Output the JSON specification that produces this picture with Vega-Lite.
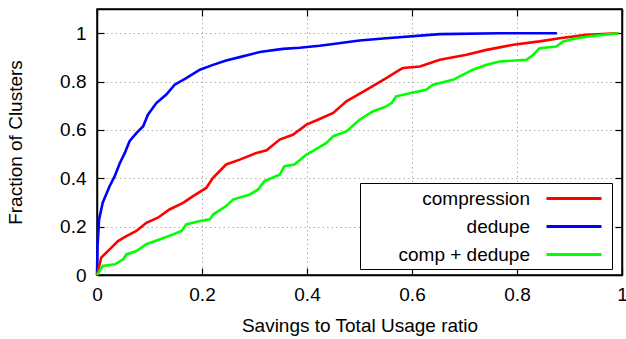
{
  "$schema": "https://vega.github.io/schema/vega-lite/v6.json",
  "width": 525,
  "height": 266,
  "autosize": {"type": "none"},
  "padding": {"left": 97, "top": 9, "right": 4, "bottom": 64},
  "background": "white",
  "config": {
    "font": "Liberation Sans",
    "view": {"stroke": "black", "strokeWidth": 1.5},
    "axis": {"labelFont": "Liberation Sans", "titleFont": "Liberation Sans", "labelColor": "black", "titleColor": "black", "labelFontSize": 19, "titleFontSize": 19, "titleFontWeight": "normal", "domainColor": "black", "tickColor": "black", "domainWidth": 1.5, "tickWidth": 1.2}
  },
  "data": {"values": [
    {"s": "dedupe", "x": 0, "y": 0},
    {"s": "dedupe", "x": 0.001, "y": 0.12},
    {"s": "dedupe", "x": 0.004, "y": 0.23},
    {"s": "dedupe", "x": 0.011, "y": 0.30},
    {"s": "dedupe", "x": 0.024, "y": 0.367},
    {"s": "dedupe", "x": 0.034, "y": 0.41},
    {"s": "dedupe", "x": 0.043, "y": 0.46},
    {"s": "dedupe", "x": 0.053, "y": 0.505},
    {"s": "dedupe", "x": 0.062, "y": 0.553},
    {"s": "dedupe", "x": 0.075, "y": 0.587},
    {"s": "dedupe", "x": 0.088, "y": 0.615},
    {"s": "dedupe", "x": 0.097, "y": 0.663},
    {"s": "dedupe", "x": 0.113, "y": 0.711},
    {"s": "dedupe", "x": 0.132, "y": 0.746},
    {"s": "dedupe", "x": 0.148, "y": 0.787},
    {"s": "dedupe", "x": 0.170, "y": 0.814},
    {"s": "dedupe", "x": 0.196, "y": 0.849},
    {"s": "dedupe", "x": 0.221, "y": 0.869},
    {"s": "dedupe", "x": 0.246, "y": 0.887},
    {"s": "dedupe", "x": 0.272, "y": 0.901},
    {"s": "dedupe", "x": 0.31, "y": 0.922},
    {"s": "dedupe", "x": 0.354, "y": 0.935},
    {"s": "dedupe", "x": 0.386, "y": 0.94},
    {"s": "dedupe", "x": 0.424, "y": 0.948},
    {"s": "dedupe", "x": 0.45, "y": 0.955},
    {"s": "dedupe", "x": 0.5, "y": 0.97},
    {"s": "dedupe", "x": 0.551, "y": 0.979},
    {"s": "dedupe", "x": 0.653, "y": 0.996},
    {"s": "dedupe", "x": 0.767, "y": 1.0},
    {"s": "dedupe", "x": 0.876, "y": 1.0},
    {"s": "compression", "x": 0, "y": 0},
    {"s": "compression", "x": 0.008, "y": 0.072},
    {"s": "compression", "x": 0.024, "y": 0.106},
    {"s": "compression", "x": 0.040, "y": 0.14},
    {"s": "compression", "x": 0.056, "y": 0.161},
    {"s": "compression", "x": 0.075, "y": 0.182},
    {"s": "compression", "x": 0.094, "y": 0.216},
    {"s": "compression", "x": 0.116, "y": 0.237},
    {"s": "compression", "x": 0.138, "y": 0.271},
    {"s": "compression", "x": 0.164, "y": 0.298},
    {"s": "compression", "x": 0.183, "y": 0.326},
    {"s": "compression", "x": 0.208, "y": 0.36},
    {"s": "compression", "x": 0.221, "y": 0.402},
    {"s": "compression", "x": 0.246, "y": 0.457},
    {"s": "compression", "x": 0.272, "y": 0.477},
    {"s": "compression", "x": 0.304, "y": 0.505},
    {"s": "compression", "x": 0.323, "y": 0.516},
    {"s": "compression", "x": 0.348, "y": 0.56},
    {"s": "compression", "x": 0.373, "y": 0.58},
    {"s": "compression", "x": 0.399, "y": 0.622},
    {"s": "compression", "x": 0.424, "y": 0.645},
    {"s": "compression", "x": 0.45, "y": 0.67},
    {"s": "compression", "x": 0.475, "y": 0.718},
    {"s": "compression", "x": 0.513, "y": 0.766},
    {"s": "compression", "x": 0.551, "y": 0.814},
    {"s": "compression", "x": 0.577, "y": 0.849},
    {"s": "compression", "x": 0.583, "y": 0.856},
    {"s": "compression", "x": 0.615, "y": 0.862},
    {"s": "compression", "x": 0.653, "y": 0.89},
    {"s": "compression", "x": 0.704, "y": 0.911},
    {"s": "compression", "x": 0.742, "y": 0.931},
    {"s": "compression", "x": 0.793, "y": 0.952},
    {"s": "compression", "x": 0.843, "y": 0.966},
    {"s": "compression", "x": 0.881, "y": 0.979},
    {"s": "compression", "x": 0.932, "y": 0.993},
    {"s": "compression", "x": 0.993, "y": 1.0},
    {"s": "comp + dedupe", "x": 0, "y": 0},
    {"s": "comp + dedupe", "x": 0.011, "y": 0.037},
    {"s": "comp + dedupe", "x": 0.034, "y": 0.044},
    {"s": "comp + dedupe", "x": 0.050, "y": 0.065},
    {"s": "comp + dedupe", "x": 0.056, "y": 0.085},
    {"s": "comp + dedupe", "x": 0.075, "y": 0.099},
    {"s": "comp + dedupe", "x": 0.094, "y": 0.127},
    {"s": "comp + dedupe", "x": 0.119, "y": 0.147},
    {"s": "comp + dedupe", "x": 0.145, "y": 0.168},
    {"s": "comp + dedupe", "x": 0.161, "y": 0.182},
    {"s": "comp + dedupe", "x": 0.170, "y": 0.209},
    {"s": "comp + dedupe", "x": 0.196, "y": 0.223},
    {"s": "comp + dedupe", "x": 0.215, "y": 0.23},
    {"s": "comp + dedupe", "x": 0.221, "y": 0.25},
    {"s": "comp + dedupe", "x": 0.246, "y": 0.285},
    {"s": "comp + dedupe", "x": 0.259, "y": 0.312},
    {"s": "comp + dedupe", "x": 0.291, "y": 0.333},
    {"s": "comp + dedupe", "x": 0.307, "y": 0.354},
    {"s": "comp + dedupe", "x": 0.319, "y": 0.388},
    {"s": "comp + dedupe", "x": 0.348, "y": 0.415},
    {"s": "comp + dedupe", "x": 0.357, "y": 0.45},
    {"s": "comp + dedupe", "x": 0.376, "y": 0.457},
    {"s": "comp + dedupe", "x": 0.399, "y": 0.498},
    {"s": "comp + dedupe", "x": 0.411, "y": 0.512},
    {"s": "comp + dedupe", "x": 0.437, "y": 0.546},
    {"s": "comp + dedupe", "x": 0.45, "y": 0.574},
    {"s": "comp + dedupe", "x": 0.475, "y": 0.594},
    {"s": "comp + dedupe", "x": 0.5, "y": 0.642},
    {"s": "comp + dedupe", "x": 0.526, "y": 0.677},
    {"s": "comp + dedupe", "x": 0.551, "y": 0.697},
    {"s": "comp + dedupe", "x": 0.561, "y": 0.711},
    {"s": "comp + dedupe", "x": 0.570, "y": 0.739},
    {"s": "comp + dedupe", "x": 0.596, "y": 0.752},
    {"s": "comp + dedupe", "x": 0.627, "y": 0.766},
    {"s": "comp + dedupe", "x": 0.640, "y": 0.787},
    {"s": "comp + dedupe", "x": 0.678, "y": 0.807},
    {"s": "comp + dedupe", "x": 0.716, "y": 0.849},
    {"s": "comp + dedupe", "x": 0.742, "y": 0.869},
    {"s": "comp + dedupe", "x": 0.767, "y": 0.883},
    {"s": "comp + dedupe", "x": 0.818, "y": 0.89},
    {"s": "comp + dedupe", "x": 0.831, "y": 0.911},
    {"s": "comp + dedupe", "x": 0.843, "y": 0.938},
    {"s": "comp + dedupe", "x": 0.875, "y": 0.945},
    {"s": "comp + dedupe", "x": 0.888, "y": 0.966},
    {"s": "comp + dedupe", "x": 0.913, "y": 0.979},
    {"s": "comp + dedupe", "x": 0.945, "y": 0.989},
    {"s": "comp + dedupe", "x": 0.993, "y": 1.0}
  ]},
  "layer": [
    {
      "mark": {"type": "line", "strokeWidth": 2.6, "interpolate": "linear"},
      "encoding": {
        "x": {"field": "x", "type": "quantitative", "scale": {"domain": [0, 1], "nice": false, "zero": false},
          "axis": {"title": "Savings to Total Usage ratio", "values": [0, 0.2, 0.4, 0.6, 0.8, 1], "format": "~g", "labelFlush": false, "labelOverlap": false, "tickSize": -7, "labelPadding": 17, "titlePadding": 12, "grid": true, "gridColor": "#b0b0b0", "gridDash": [1.5, 3], "gridWidth": 1, "gridOpacity": 1}},
        "y": {"field": "y", "type": "quantitative", "scale": {"domain": [0, 1.1], "nice": false, "zero": false},
          "axis": {"title": "Fraction of Clusters", "values": [0, 0.2, 0.4, 0.6, 0.8, 1], "format": "~g", "labelFlush": false, "labelOverlap": false, "tickSize": -7, "labelPadding": 18, "titlePadding": 34, "grid": true, "gridColor": "#b0b0b0", "gridDash": [1.5, 3], "gridWidth": 1, "gridOpacity": 1}},
        "color": {"field": "s", "type": "nominal",
          "scale": {"domain": ["compression", "dedupe", "comp + dedupe"], "range": ["#ff0000", "#0000ff", "#00ff00"]},
          "legend": {"title": null, "orient": "none", "legendX": 263, "legendY": 174, "symbolType": "M-2.75,0H2.75", "symbolSize": 400, "symbolStrokeWidth": 3, "symbolOffset": 198.5, "labelFontSize": 19, "labelFont": "Liberation Sans", "labelColor": "black", "labelAlign": "right", "labelOffset": -55.5, "strokeColor": "black", "fillColor": "white", "padding": 4, "rowPadding": 6, "labelLimit": 300}}
      }
    },
    {
      "mark": {"type": "point", "opacity": 0},
      "encoding": {
        "x": {"field": "x", "type": "quantitative", "axis": {"orient": "top", "title": null, "labels": false, "values": [0, 0.2, 0.4, 0.6, 0.8, 1], "tickSize": -7, "grid": false}},
        "y": {"field": "y", "type": "quantitative", "axis": {"orient": "right", "title": null, "labels": false, "values": [0, 0.2, 0.4, 0.6, 0.8, 1], "tickSize": -7, "grid": false}}
      }
    }
  ],
  "resolve": {"axis": {"x": "independent", "y": "independent"}}
}
